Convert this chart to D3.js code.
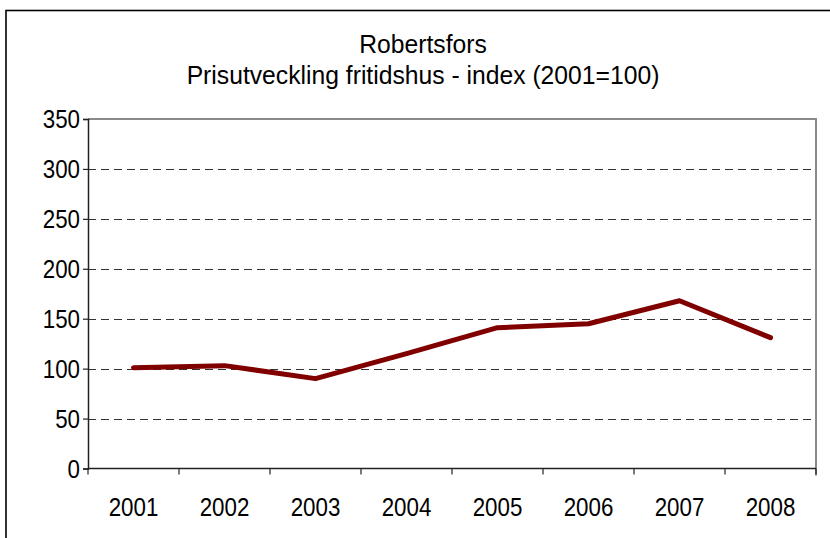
<!DOCTYPE html>
<html>
<head>
<meta charset="utf-8">
<script src="https://cdn.jsdelivr.net/npm/d3@7"></script>
<style>
  html, body { margin: 0; padding: 0; background: #fff; }
  svg { display: block; font-family: "Liberation Sans", Arial, sans-serif; }
</style>
</head>
<body>
<svg id="chart" width="830" height="538"></svg>
<script>
const titleLines = ["Robertsfors", "Prisutveckling fritidshus - index (2001=100)"];
const years = ["2001", "2002", "2003", "2004", "2005", "2006", "2007", "2008"];
const indexValues = [101, 103, 90, 115, 141, 145, 168, 131];
const yTicks = [0, 50, 100, 150, 200, 250, 300, 350];

const svg = d3.select("#chart");
const plot = { left: 88, right: 816, top: 119, bottom: 468.5 };
const FONT = "Liberation Sans, Arial, sans-serif";

// outer chart border
svg.append("rect")
  .attr("x", 6).attr("y", 10.5)
  .attr("width", 840).attr("height", 560)
  .attr("fill", "#fff").attr("stroke", "#000").attr("stroke-width", 1.6);

const x = d3.scaleBand().domain(years).range([plot.left, plot.right]).padding(0);
const y = d3.scaleLinear().domain([0, 350]).range([plot.bottom, plot.top]);

// gridlines (dashed)
svg.append("g").selectAll("line")
  .data(yTicks.filter(t => t > 0 && t < 350))
  .join("line")
  .attr("x1", plot.left).attr("x2", plot.right)
  .attr("y1", d => Math.round(y(d)) + 0.5).attr("y2", d => Math.round(y(d)) + 0.5)
  .attr("stroke", "#333").attr("stroke-width", 1)
  .attr("stroke-dasharray", "8,5");

// plot area top & right border (gray)
svg.append("path")
  .attr("d", `M${plot.left},${plot.top} H${plot.right} V${plot.bottom + 7}`)
  .attr("fill", "none").attr("stroke", "#8a8a8a").attr("stroke-width", 2);

// Y axis
const yAxis = d3.axisLeft(y).tickValues(yTicks).tickSize(5).tickFormat(() => "");
const gy = svg.append("g").attr("transform", `translate(${plot.left},0)`).call(yAxis);
gy.select(".domain").attr("stroke", "#222").attr("stroke-width", 1.5);
gy.selectAll(".tick line").attr("stroke", "#222").attr("stroke-width", 1.2);
svg.append("g").selectAll("text").data(yTicks).join("text")
  .attr("transform", d => `translate(80,${y(d) + 9}) scale(0.86,1)`)
  .attr("text-anchor", "end")
  .attr("font-family", FONT).attr("font-size", 26).attr("fill", "#000")
  .text(d => d);

// X axis: ticks at category boundaries
const gx = svg.append("g").attr("transform", `translate(0,${plot.bottom})`);
gx.append("line")
  .attr("x1", plot.left).attr("x2", plot.right)
  .attr("stroke", "#222").attr("stroke-width", 1.5);
const bounds = years.map(d => x(d)).concat([x(years[years.length - 1]) + x.bandwidth()]);
gx.selectAll("line.tk").data(bounds).join("line").attr("class", "tk")
  .attr("x1", d => d).attr("x2", d => d).attr("y1", 0).attr("y2", 6)
  .attr("stroke", "#222").attr("stroke-width", 1.2);
gx.selectAll("text").data(years).join("text")
  .attr("transform", d => `translate(${x(d) + x.bandwidth() / 2},47) scale(0.86,1)`)
  .attr("text-anchor", "middle")
  .attr("font-family", FONT).attr("font-size", 26).attr("fill", "#000")
  .text(d => d);

// data line
const line = d3.line()
  .x((d, i) => x(years[i]) + x.bandwidth() / 2)
  .y(d => y(d));
svg.append("path")
  .datum(indexValues)
  .attr("d", line)
  .attr("fill", "none")
  .attr("stroke", "#800000")
  .attr("stroke-width", 5)
  .attr("stroke-linejoin", "round")
  .attr("stroke-linecap", "round");

// titles
svg.append("g").selectAll("text").data(titleLines).join("text")
  .attr("transform", (d, i) => `translate(423,${53 + i * 31}) scale(0.95,1)`)
  .attr("text-anchor", "middle")
  .attr("font-family", FONT).attr("font-size", 26).attr("fill", "#000")
  .text(d => d);
</script>
</body>
</html>
